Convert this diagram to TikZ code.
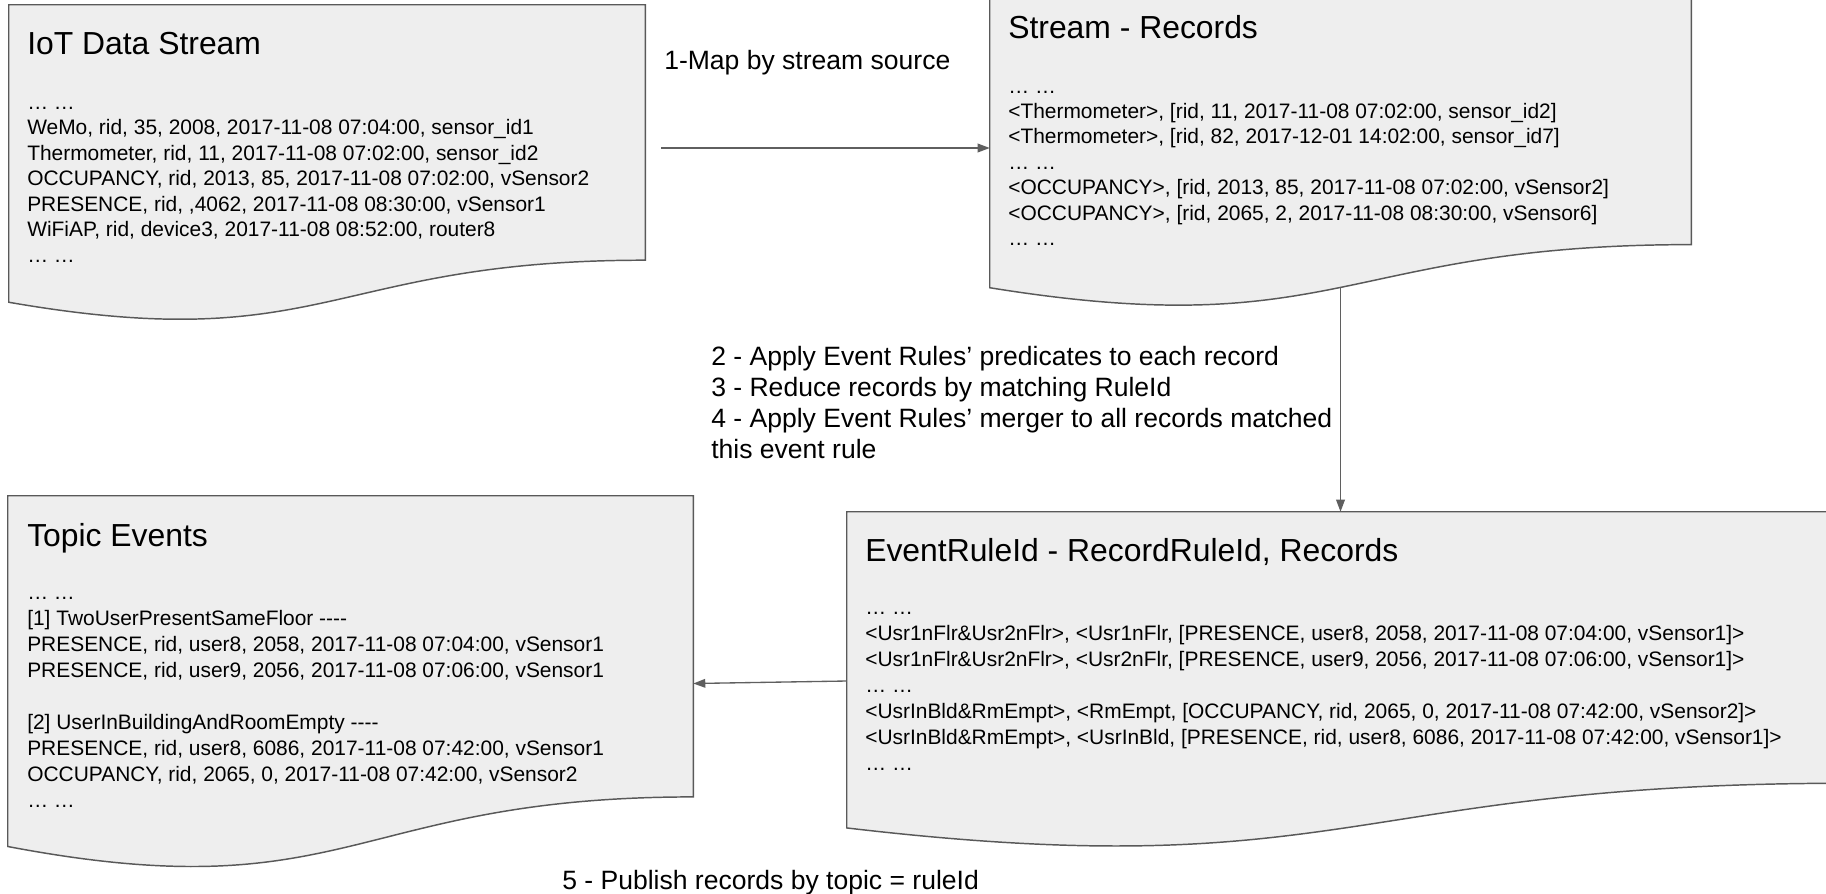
\documentclass[tikz,border=0pt]{standalone}
\usepackage{fontspec}
\setmainfont{Liberation Sans}
\usetikzlibrary{calc,fit,arrows.meta}
\definecolor{docfill}{RGB}{238,238,238}
\definecolor{docline}{RGB}{89,89,89}
\definecolor{arrowgray}{RGB}{95,95,95}
\newcommand{\docshape}[1]{%
  \draw[docbox] (#1.north west) -- (#1.north east)
    -- ($(#1.north east)!0.802!(#1.south east)$)
    .. controls ($(#1.north)!0.802!(#1.south)$) and ($(#1.north)!1.1075!(#1.south)$) .. ($(#1.north west)!0.934!(#1.south west)$)
    node[pos=0.5,coordinate] (#1-wave) {}
    -- cycle;}
\newcommand{\lineitem}[1]{\hbox{#1}}
\begin{document}
\begin{tikzpicture}[x=0.75pt,y=-0.75pt,
  boxarea/.style={inner sep=0pt,draw=none},
  docbox/.style={draw=docline,fill=docfill,line width=1.1pt},
  titletext/.style={anchor=base west,inner sep=0pt,font=\fontsize{23.9pt}{28pt}\selectfont},
  bodytext/.style={anchor=base west,inner sep=0pt,font=\fontsize{15.7pt}{#1}\selectfont},
  bodytext/.default=19.1pt,
  labeltext/.style={anchor=base west,inner sep=0pt,font=\fontsize{19.9pt}{23.25pt}\selectfont},
  flow/.style={draw=arrowgray,line width=1pt,-{Triangle[length=9pt,width=6.5pt]}}]
\useasboundingbox (0,0) rectangle (1826,893);
\clip (0,0) rectangle (1826,893);
\fill[white] (0,0) rectangle (1826,893);

% box areas
\node[boxarea,fit={(9,5) (645,323)}] (b1) {};
\node[boxarea,fit={(990,-17) (1691,309)}] (b2) {};
\node[boxarea,fit={(8,496) (693,871)}] (b3) {};
\node[boxarea,fit={(847,512) (1847,850)}] (b4) {};

\docshape{b1}
\docshape{b2}
\docshape{b3}
\docshape{b4}

% IoT Data Stream
\node[titletext] (t1) at (27,54) {IoT Data Stream};
\node[bodytext] (x1) at (27,109.5) {\vtop{%
  \lineitem{… …}
  \lineitem{WeMo, rid, 35, 2008, 2017-11-08 07:04:00, sensor\_id1}
  \lineitem{Thermometer, rid, 11, 2017-11-08 07:02:00, sensor\_id2}
  \lineitem{OCCUPANCY, rid, 2013, 85, 2017-11-08 07:02:00, vSensor2}
  \lineitem{PRESENCE, rid, ,4062, 2017-11-08 08:30:00, vSensor1}
  \lineitem{WiFiAP, rid, device3, 2017-11-08 08:52:00, router8}
  \lineitem{… …}}};

% Stream - Records
\node[titletext] (t2) at (1008,38) {Stream - Records};
\node[bodytext] (x2) at (1008,93) {\vtop{%
  \lineitem{… …}
  \lineitem{<Thermometer>, [rid, 11, 2017-11-08 07:02:00, sensor\_id2]}
  \lineitem{<Thermometer>, [rid, 82, 2017-12-01 14:02:00, sensor\_id7]}
  \lineitem{… …}
  \lineitem{<OCCUPANCY>, [rid, 2013, 85, 2017-11-08 07:02:00, vSensor2]}
  \lineitem{<OCCUPANCY>, [rid, 2065, 2, 2017-11-08 08:30:00, vSensor6]}
  \lineitem{… …}}};

% Topic Events
\node[titletext] (t3) at (27,546) {Topic Events};
\node[bodytext=19.5pt] (x3) at (27,599) {\vtop{%
  \lineitem{… …}
  \lineitem{[1] TwoUserPresentSameFloor -{}-{}-{}-}
  \lineitem{PRESENCE, rid, user8, 2058, 2017-11-08 07:04:00, vSensor1}
  \lineitem{PRESENCE, rid, user9, 2056, 2017-11-08 07:06:00, vSensor1}
  \lineitem{}
  \lineitem{[2] UserInBuildingAndRoomEmpty -{}-{}-{}-}
  \lineitem{PRESENCE, rid, user8, 6086, 2017-11-08 07:42:00, vSensor1}
  \lineitem{OCCUPANCY, rid, 2065, 0, 2017-11-08 07:42:00, vSensor2}
  \lineitem{… …}}};

% EventRuleId - RecordRuleId, Records
\node[titletext] (t4) at (865,561) {EventRuleId - RecordRuleId, Records};
\node[bodytext=19.5pt] (x4) at (865,614) {\vtop{%
  \lineitem{… …}
  \lineitem{<Usr1nFlr\&Usr2nFlr>, <Usr1nFlr, [PRESENCE, user8, 2058, 2017-11-08 07:04:00, vSensor1]>}
  \lineitem{<Usr1nFlr\&Usr2nFlr>, <Usr2nFlr, [PRESENCE, user9, 2056, 2017-11-08 07:06:00, vSensor1]>}
  \lineitem{… …}
  \lineitem{<UsrInBld\&RmEmpt>, <RmEmpt, [OCCUPANCY, rid, 2065, 0, 2017-11-08 07:42:00, vSensor2]>}
  \lineitem{<UsrInBld\&RmEmpt>, <UsrInBld, [PRESENCE, rid, user8, 6086, 2017-11-08 07:42:00, vSensor1]>}
  \lineitem{… …}}};

% step labels
\node[labeltext] (l1) at (664,69) {1-Map by stream source};
\node[labeltext] (l2) at (711,365) {\vtop{%
  \lineitem{2 - Apply Event Rules’ predicates to each record}
  \lineitem{3 - Reduce records by matching RuleId}
  \lineitem{4 - Apply Event Rules’ merger to all records matched}
  \lineitem{this event rule}}};
\node[labeltext] (l5) at (562,889) {5 - Publish records by topic = ruleId};

% connectors
\coordinate (a1s) at (661,148);
\draw[flow] (a1s) -- (a1s -| b2.west);
\draw[flow] (b2-wave) -- (b2-wave |- b4.north);
\draw[flow] (b4.west) -- (b3.east);
\end{tikzpicture}
\end{document}
